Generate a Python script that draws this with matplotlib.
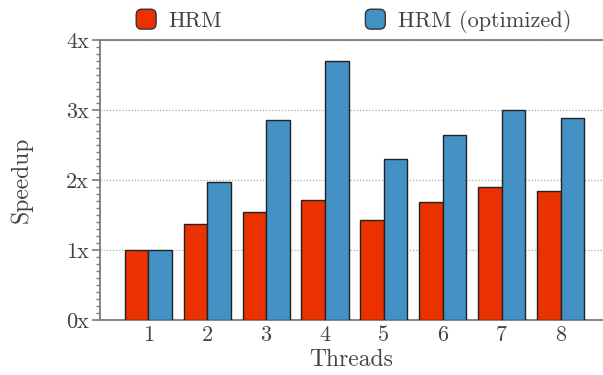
import matplotlib
matplotlib.use("Agg")
import matplotlib.pyplot as plt
import numpy as np
from matplotlib.patches import FancyBboxPatch
from matplotlib.legend_handler import HandlerPatch
from matplotlib.ticker import MultipleLocator, FuncFormatter

plt.rcParams['font.family'] = ['cmr10', 'DejaVu Serif']
plt.rcParams['mathtext.fontset'] = 'cm'
plt.rcParams['axes.unicode_minus'] = False

threads = [1, 2, 3, 4, 5, 6, 7, 8]
hrm = [1.00, 1.37, 1.54, 1.71, 1.43, 1.69, 1.90, 1.85]
hrm_opt = [1.00, 1.97, 2.86, 3.70, 2.30, 2.64, 3.00, 2.88]
series_names = ["HRM", "HRM (optimized)"]

red = "#EB3100"
blue = "#4491C6"
text_col = "#444444"
spine_col = "#7a7a7a"

fig = plt.figure(figsize=(6.03, 3.75), dpi=100)
ax = fig.add_axes([100/603, 1-320/375, 1-100/603, 280/375])

x = np.array(threads, dtype=float)
w = 0.4
b1 = ax.bar(x - w/2, hrm, w, color=red, edgecolor="#222222", linewidth=1.0,
            label=series_names[0], zorder=3)
b2 = ax.bar(x + w/2, hrm_opt, w, color=blue, edgecolor="#222222", linewidth=1.0,
            label=series_names[1], zorder=3)

ax.set_xlim(0.18, 8.72)
ax.set_ylim(0, 4)
ax.set_xticks(threads)
ax.set_xticklabels([str(t) for t in threads])
ax.yaxis.set_major_locator(MultipleLocator(1))
ax.yaxis.set_minor_locator(MultipleLocator(0.1))
ax.yaxis.set_major_formatter(FuncFormatter(lambda v, p: f"{int(round(v))}x"))

ax.grid(axis='y', which='major', linestyle=(0, (1, 1.5)), color="#aaaaaa",
        linewidth=0.9, zorder=0)
ax.set_axisbelow(True)

for s in ['left', 'bottom', 'top']:
    ax.spines[s].set_color(spine_col)
    ax.spines[s].set_linewidth(1.3)
ax.spines['right'].set_visible(False)

ax.tick_params(axis='x', length=0, labelsize=16, colors=text_col, pad=4)
ax.tick_params(axis='y', which='major', length=6, width=1.2, color=spine_col,
               labelsize=16, labelcolor=text_col, pad=2)
ax.tick_params(axis='y', which='minor', length=3, width=1.0, color=spine_col)

ax.set_xlabel("Threads", fontsize=17, color=text_col, labelpad=3)
ax.set_ylabel("Speedup", fontsize=17, color=text_col, labelpad=24)


class RoundedHandler(HandlerPatch):
    def create_artists(self, legend, orig_handle, xdescent, ydescent,
                       width, height, fontsize, trans):
        size = min(width, height) * 1.0
        p = FancyBboxPatch((width/2 - size/2 - xdescent, height/2 - size/2 - ydescent),
                           size, size,
                           boxstyle=f"round,pad=0,rounding_size={size*0.28}",
                           facecolor=orig_handle.get_facecolor(),
                           edgecolor="#333333", linewidth=1.0, transform=trans)
        return [p]


leg = fig.legend(handles=[b1.patches[0], b2.patches[0]], labels=series_names,
                 loc='center', bbox_to_anchor=(353/603, 1 - 21/375),
                 ncol=2, frameon=False, fontsize=16, handlelength=1.0,
                 handleheight=1.0, handletextpad=0.5, columnspacing=6.4,
                 handler_map={b1.patches[0]: RoundedHandler(),
                              b2.patches[0]: RoundedHandler()})
for t in leg.get_texts():
    t.set_color(text_col)

fig.savefig("out.png", dpi=100)
